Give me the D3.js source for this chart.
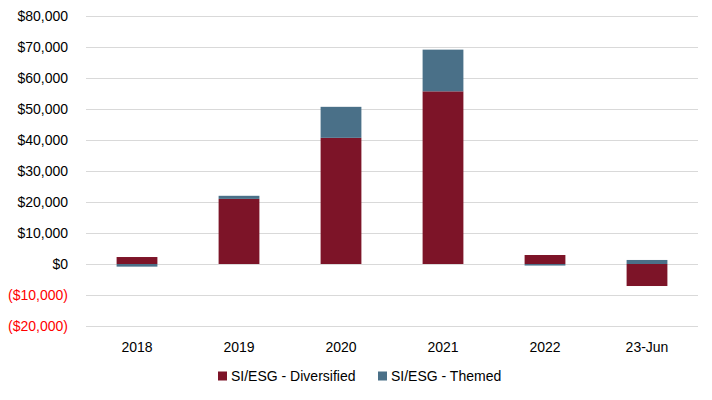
<!DOCTYPE html>
<html>
<head>
<meta charset="utf-8">
<script src="https://cdn.jsdelivr.net/npm/d3@7"></script>
<style>
  body { margin: 0; background: #fff; }
  svg text { font-family: "Liberation Sans", Arial, sans-serif; }
</style>
</head>
<body>
<svg id="chart" width="712" height="400"></svg>
<script>
const categories = ['2018', '2019', '2020', '2021', '2022', '23-Jun']
const diversified = [2250, 21000, 40700, 55700, 2900, -7100]
const themed = [-850, 1000, 10000, 13450, -500, 1300]
const yTicks = [-20000, -10000, 0, 10000, 20000, 30000, 40000, 50000, 60000, 70000, 80000]
const seriesNames = ['SI/ESG - Diversified', 'SI/ESG - Themed']
const colors = ['#7D1428', '#4A7088']

const svg = d3.select('#chart')
const margin = { top: 16, right: 14, bottom: 74, left: 86 }
const width = 712 - margin.left - margin.right

const rows = categories.map((c, i) => ({ cat: c, div: diversified[i], thm: themed[i] }))

// diverging offset so negatives stack below zero
const layers = d3.stack()
  .keys(['div', 'thm'])
  .offset(d3.stackOffsetDiverging)(rows)

const x = d3.scaleBand()
  .domain(categories)
  .range([margin.left, margin.left + width])
  .paddingInner(0.6)
  .paddingOuter(0.3)

const y = d3.scaleLinear()
  .domain([-20000, 80000])
  .range([326, margin.top])

// gridlines
svg.append('g')
  .selectAll('line')
  .data(yTicks)
  .join('line')
  .attr('x1', margin.left)
  .attr('x2', margin.left + width)
  .attr('y1', d => y(d) + 0.5)
  .attr('y2', d => y(d) + 0.5)
  .attr('stroke', '#d9d9d9')
  .attr('stroke-width', 1)

// y labels
const fmt = d3.format(',')
svg.append('g')
  .selectAll('text')
  .data(yTicks)
  .join('text')
  .attr('x', 68)
  .attr('y', d => y(d))
  .attr('dy', '0.35em')
  .attr('text-anchor', 'end')
  .attr('font-size', 14)
  .attr('fill', d => (d < 0 ? '#ff0000' : '#000'))
  .text(d => (d < 0 ? `($${fmt(-d)})` : `$${fmt(d)}`))

// bars
svg.append('g')
  .selectAll('g')
  .data(layers)
  .join('g')
  .attr('fill', (d, i) => colors[i])
  .selectAll('rect')
  .data(d => d)
  .join('rect')
  .attr('x', d => x(d.data.cat))
  .attr('width', x.bandwidth())
  .attr('y', d => y(Math.max(d[0], d[1])))
  .attr('height', d => Math.abs(y(d[0]) - y(d[1])))

// x labels
svg.append('g')
  .selectAll('text')
  .data(categories)
  .join('text')
  .attr('x', d => x(d) + x.bandwidth() / 2)
  .attr('y', 352)
  .attr('text-anchor', 'middle')
  .attr('font-size', 14)
  .attr('fill', '#000')
  .text(d => d)

// legend
const legendX = [218, 378]
const legend = svg.append('g')
  .selectAll('g')
  .data(seriesNames)
  .join('g')
  .attr('transform', (d, i) => `translate(${legendX[i]}, 376)`)

legend.append('rect')
  .attr('x', 0)
  .attr('y', -4.5)
  .attr('width', 9)
  .attr('height', 9)
  .attr('fill', (d, i) => colors[i])

legend.append('text')
  .attr('x', 13)
  .attr('dy', '0.35em')
  .attr('font-size', 14)
  .attr('fill', '#000')
  .text(d => d)
</script>
</body>
</html>
